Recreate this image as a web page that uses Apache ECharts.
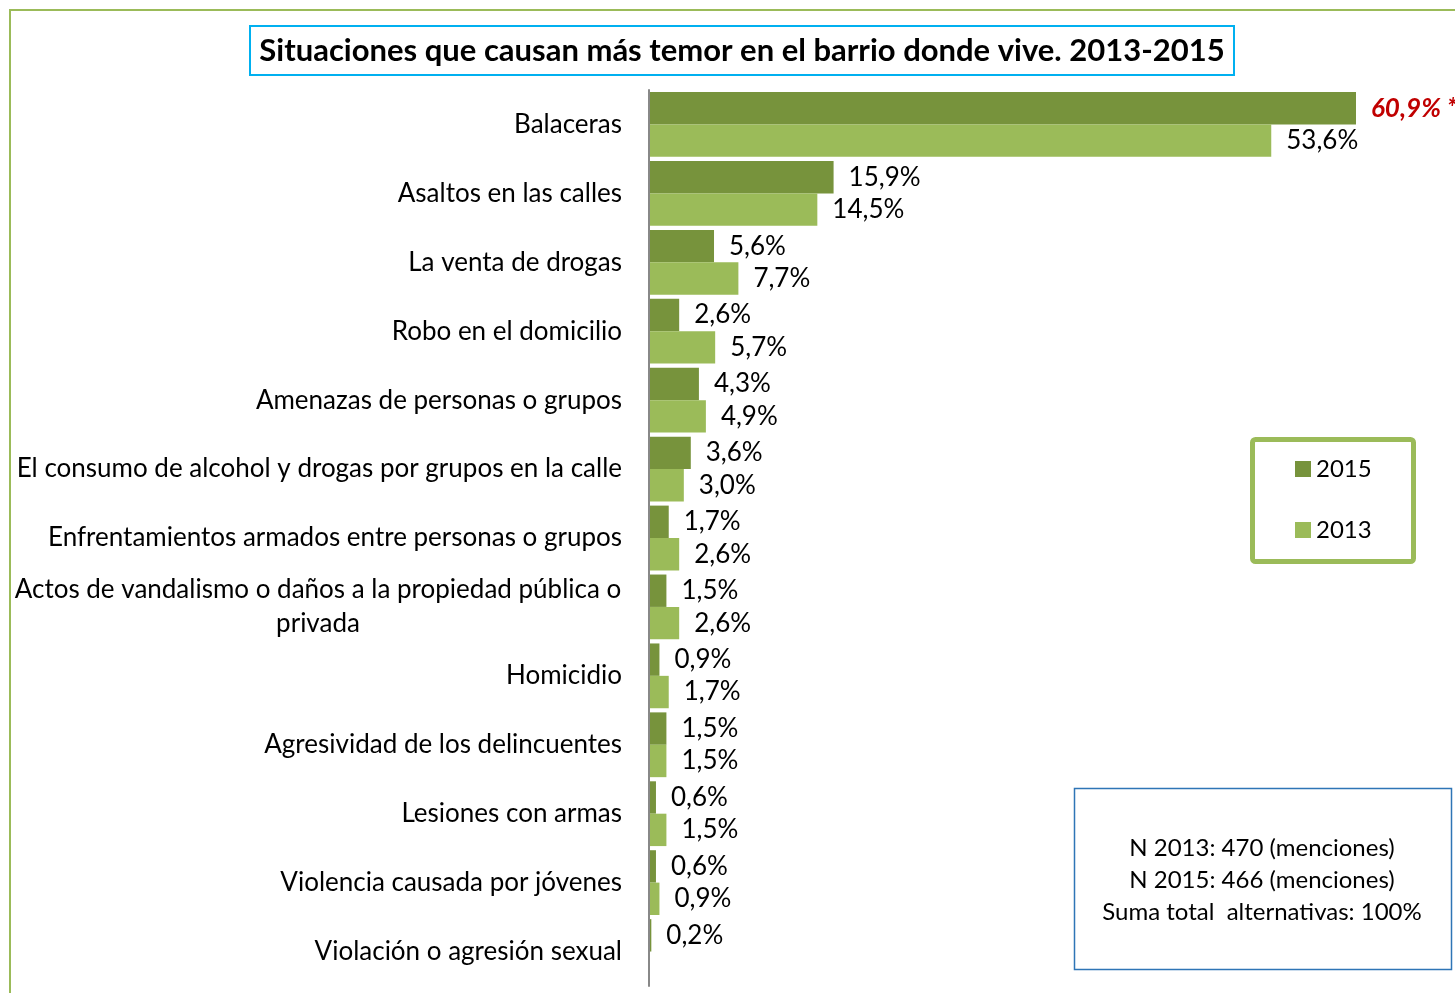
<!DOCTYPE html>
<html>
<head>
<meta charset="utf-8">
<title>Situaciones que causan más temor</title>
<script src="https://cdn.jsdelivr.net/npm/echarts@6/dist/echarts.min.js"></script>
<style>
  html, body { margin: 0; padding: 0; background: #fff; }
  #chart { width: 1455px; height: 993px; }
</style>
</head>
<body>
<div id="chart"></div>
<script>
// datos
const categorias = [
  'Balaceras',
  'Asaltos en las calles',
  'La venta de drogas',
  'Robo en el domicilio',
  'Amenazas de personas o grupos',
  'El consumo de alcohol y drogas por grupos en la calle',
  'Enfrentamientos armados entre personas o grupos',
  'Actos de vandalismo o daños a la propiedad pública o\nprivada',
  'Homicidio',
  'Agresividad de los delincuentes',
  'Lesiones con armas',
  'Violencia causada por jóvenes',
  'Violación o agresión sexual'
]
const valores2015 = [60.9, 15.9, 5.6, 2.6, 4.3, 3.6, 1.7, 1.5, 0.9, 1.5, 0.6, 0.6, 0.2]
const valores2013 = [53.6, 14.5, 7.7, 5.7, 4.9, 3.0, 2.6, 2.6, 1.7, 1.5, 1.5, 0.9, null]
const notas = ['N 2013: 470 (menciones)', 'N 2015: 466 (menciones)', 'Suma total  alternativas: 100%']

const FONT = 'Lato'
const FS = 26
const fmt = v => v.toFixed(1).replace('.', ',') + '%'

const chart = echarts.init(document.getElementById('chart'))

const labelBase = {
  show: true,
  position: 'right',
  distance: 15,
  fontFamily: FONT,
  fontSize: FS,
  color: '#000',
  formatter: p => fmt(p.value)
}

// el primer valor de 2015 va destacado en rojo
const datos2015 = valores2015.map((v, i) => i === 0
  ? { value: v, label: { color: '#C00000', fontWeight: 'bold', fontStyle: 'italic', formatter: p => fmt(p.value) + ' *' } }
  : v)

const option = {
  animation: false,
  title: {
    text: 'Situaciones que causan más temor en el barrio donde vive. 2013-2015',
    left: 732,
    top: 26,
    textAlign: 'center',
    borderColor: '#00B0F0',
    borderWidth: 2,
    padding: [9, 10, 9, 10],
    textStyle: { fontFamily: FONT, fontSize: 31, fontWeight: 'bold', color: '#000' }
  },
  legend: {
    data: ['2015', '2013'],
    orient: 'vertical',
    left: 1295,
    top: 457,
    padding: 0,
    itemGap: 37,
    itemWidth: 16,
    itemHeight: 16,
    icon: 'rect',
    textStyle: { fontFamily: FONT, fontSize: 24, color: '#000' }
  },
  grid: { left: 649, top: 90, width: 707, height: 896 },
  xAxis: { type: 'value', min: 0, max: 60.9, show: false },
  yAxis: {
    type: 'category',
    inverse: true,
    z: 3,
    data: categorias,
    axisLine: { lineStyle: { color: '#888', width: 2 } },
    axisTick: { inside: true, length: 8, lineStyle: { color: '#888', width: 2 } },
    axisLabel: {
      margin: 27,
      fontFamily: FONT,
      fontSize: FS,
      color: '#000',
      formatter: v => v.indexOf('\n') > -1
        ? v.split('\n').map(s => '{c|' + s + '}').join('\n')
        : v,
      rich: { c: { align: 'center', width: 608, fontFamily: FONT, fontSize: FS, color: '#000', lineHeight: 34 } }
    }
  },
  series: [
    {
      name: '2015', type: 'bar', data: datos2015,
      barGap: '0%', barCategoryGap: '6%',
      itemStyle: { color: '#77933C' },
      label: labelBase
    },
    {
      name: '2013', type: 'bar', data: valores2013,
      itemStyle: { color: '#9BBB59' },
      label: labelBase
    }
  ],
  graphic: [
    { type: 'rect', silent: true, z: -1, shape: { x: 10, y: 10, width: 1470, height: 1010 }, style: { fill: null, stroke: '#9BBB59', lineWidth: 2 } },
    { type: 'rect', silent: true, shape: { x: 1252.5, y: 439.5, width: 161, height: 122, r: 3 }, style: { fill: null, stroke: '#9BBB59', lineWidth: 5 } },
    { type: 'rect', silent: true, shape: { x: 1074.5, y: 788.5, width: 377, height: 181 }, style: { fill: '#fff', stroke: '#2E75B6', lineWidth: 1.5 } },
    {
      type: 'text', silent: true, x: 1262, y: 880,
      style: { text: notas.join('\n'), fontFamily: FONT, fontSize: 24, lineHeight: 32, fill: '#000', align: 'center', verticalAlign: 'middle' }
    }
  ]
}

chart.setOption(option)
</script>
</body>
</html>
